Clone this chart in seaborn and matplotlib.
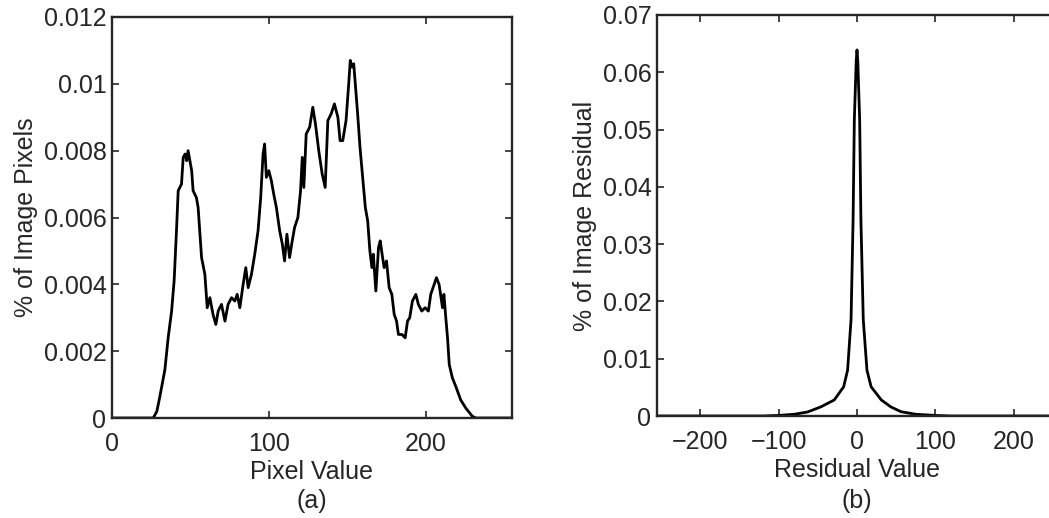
import matplotlib
matplotlib.use('Agg')
import matplotlib.pyplot as plt
import numpy as np
import pandas as pd
import seaborn as sns

# (a) pixel value histogram
pixel_values = [0, 10, 20, 26.3, 28.6, 30.5, 33.7, 35.8, 38, 39.6, 41.1, 42.2, 44.3, 45.4, 46.6, 47.6,
                48.5, 50.8, 51.7, 53.8, 54.9, 57.1, 59.2, 60.7, 62.4, 64.4, 66.2, 67.7, 69.8, 72, 74,
                76.2, 78.3, 79.8, 81.5, 83.6, 85.3, 86.8, 88.9, 91, 93.1, 94.8, 96.3, 97.3, 98.4, 100,
                101.6, 103.1, 104.8, 106.9, 108.6, 110, 111.5, 113.2, 114.9, 116.4, 118.5, 120.2,
                121.3, 122.3, 123.8, 126, 128, 129.7, 131.8, 134, 135.9, 137.6, 139.7, 141.8, 144,
                145.4, 147.1, 149.2, 150.9, 151.9, 153, 154.1, 155.1, 156.6, 158.1, 159.8, 161.5,
                163, 164.4, 165.7, 166.6, 168.2, 169.9, 171, 172.5, 173.5, 175, 176.7, 178.4, 179.9,
                181.4, 182.6, 184.8, 186.9, 188.4, 189.8, 191.5, 193.7, 195.3, 197.5, 199.6, 201.7,
                203.2, 205.4, 206.8, 208.5, 210.7, 211.6, 212.8, 213.9, 215, 217, 219.2, 222.3,
                225.5, 229.7, 232, 240, 255]
pixel_freq = [0, 0, 0, 0, 0.0002, 0.00064, 0.00144, 0.0024, 0.0032, 0.0041, 0.0056, 0.0068, 0.0070,
              0.0078, 0.0079, 0.0077, 0.0080, 0.0074, 0.0068, 0.0066, 0.0063, 0.0048, 0.0043,
              0.0033, 0.0036, 0.0031, 0.0028, 0.0032, 0.0034, 0.0029, 0.0034, 0.0036, 0.0035,
              0.0037, 0.0033, 0.0040, 0.0045, 0.0039, 0.0043, 0.0049, 0.0056, 0.0066, 0.0079,
              0.0082, 0.0072, 0.0074, 0.0071, 0.0067, 0.0063, 0.0056, 0.0052, 0.0047, 0.0055,
              0.0048, 0.0053, 0.0057, 0.0060, 0.0068, 0.0078, 0.0069, 0.0085, 0.0087, 0.0093,
              0.0088, 0.0080, 0.0073, 0.0069, 0.0089, 0.0091, 0.0094, 0.0090, 0.0083, 0.0083,
              0.0089, 0.0100, 0.0107, 0.0105, 0.0106, 0.0100, 0.0091, 0.0081, 0.0072, 0.0063,
              0.0059, 0.0050, 0.0045, 0.0049, 0.0038, 0.0051, 0.0053, 0.0048, 0.0045, 0.0047,
              0.0039, 0.0037, 0.0031, 0.0029, 0.0025, 0.0025, 0.0024, 0.0029, 0.0030, 0.0035,
              0.0037, 0.0034, 0.0032, 0.0033, 0.0032, 0.0037, 0.0040, 0.0042, 0.0040, 0.0033,
              0.0037, 0.0030, 0.0024, 0.0016, 0.0012, 0.00094, 0.00054, 0.0003, 0.00005, 0, 0, 0]

# (b) residual histogram
residual_values = [-255, -120, -100, -80, -63, -46, -29, -17, -12, -7.6, -5, -3.4, -1, 0,
                   1, 3.4, 5, 8, 12.7, 18, 31, 43, 56, 75, 100, 120, 255]
residual_freq = [0, 0, 0.0001, 0.0003, 0.0007, 0.0016, 0.0028, 0.0051, 0.008, 0.0168, 0.0342,
                 0.0517, 0.062, 0.0639, 0.062, 0.0517, 0.0342, 0.0168, 0.008, 0.0051, 0.0028,
                 0.0016, 0.00075, 0.0003, 0.0001, 0, 0]

pix_df = pd.DataFrame({'value': pixel_values, 'freq': pixel_freq})
res_df = pd.DataFrame({'value': residual_values, 'freq': residual_freq})

sns.set_style('ticks')
plt.rcParams['font.family'] = ['Liberation Sans', 'DejaVu Sans']
plt.rcParams['xtick.direction'] = 'in'
plt.rcParams['ytick.direction'] = 'in'
plt.rcParams['xtick.top'] = True
plt.rcParams['ytick.right'] = True
plt.rcParams['axes.linewidth'] = 1.7
plt.rcParams['xtick.major.width'] = 1.2
plt.rcParams['ytick.major.width'] = 1.2
plt.rcParams['xtick.major.size'] = 5
plt.rcParams['ytick.major.size'] = 5

W, H = 1049, 518
fig = plt.figure(figsize=(W / 100, H / 100), dpi=100)

tick_fs = 18
label_fs = 18

ax1 = fig.add_axes([112 / W, (H - 418) / H, 400 / W, 401 / H])
sns.lineplot(x='value', y='freq', data=pix_df, ax=ax1, color='black', linewidth=2)
ax1.set_xlim(0, 255)
ax1.set_ylim(0, 0.012)
ax1.set_xticks([0, 100, 200])
ax1.set_yticks(np.arange(0, 0.0121, 0.002))
ax1.set_yticklabels(['0', '0.002', '0.004', '0.006', '0.008', '0.01', '0.012'])
ax1.tick_params(labelsize=tick_fs, pad=4)
ax1.tick_params(axis='x', pad=10)
ax1.set_xlabel('Pixel Value', fontsize=label_fs, labelpad=3)
ax1.set_ylabel('% of Image Pixels', fontsize=label_fs, labelpad=4)
fig.text(312 / W, 1 - 501 / H, '(a)', fontsize=label_fs, ha='center', va='center')

ax2 = fig.add_axes([657 / W, (H - 416) / H, 400 / W, 401 / H])
sns.lineplot(x='value', y='freq', data=res_df, ax=ax2, color='black', linewidth=2)
ax2.set_xlim(-255, 255)
ax2.set_ylim(0, 0.07)
ax2.set_xticks([-200, -100, 0, 100, 200])
ax2.set_xticklabels(['\u2212200', '\u2212100', '0', '100', '200'])
ax2.set_yticks(np.arange(0, 0.071, 0.01))
ax2.set_yticklabels(['0', '0.01', '0.02', '0.03', '0.04', '0.05', '0.06', '0.07'])
ax2.tick_params(labelsize=tick_fs, pad=4)
ax2.tick_params(axis='x', pad=10)
ax2.set_xlabel('Residual Value', fontsize=label_fs, labelpad=3)
ax2.set_ylabel('% of Image Residual', fontsize=label_fs, labelpad=4)
fig.text(857 / W, 1 - 501 / H, '(b)', fontsize=label_fs, ha='center', va='center')

for ax in (ax1, ax2):
    for s in ax.spines.values():
        s.set_visible(True)

fig.savefig('out.png', dpi=100)
